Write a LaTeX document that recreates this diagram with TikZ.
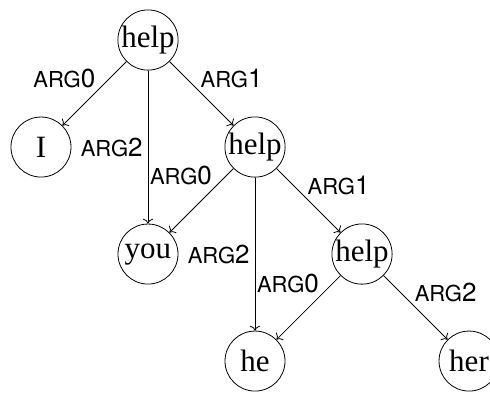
\documentclass[tikz,border=0pt]{standalone}
\usepackage{fontspec}
\setmainfont{Liberation Serif}
\setsansfont{TeX Gyre Heros}
\usepackage{tikz}
\usetikzlibrary{arrows.meta, positioning}

\newcommand{\argrel}[1]{{\fontsize{11}{13}\selectfont ARG}#1}

\begin{document}
\begin{tikzpicture}[x=1.88cm, y=1.88cm,
  word/.style={circle, draw, inner sep=0pt, minimum size=30pt, font=\fontsize{15.5}{18}\selectfont},
  rel/.style={font=\sffamily\fontsize{13}{15}\selectfont, inner sep=1pt}]
\useasboundingbox (-1.383,0.374) rectangle (3.196,-3.290);
\node[word] (h1) at (0,0) {help};
\node[word] (i) at (-1,-1) {I};
\node[word] (h2) at (1,-1) {help};
\node[word] (you) at (0,-2) {you};
\node[word] (h3) at (2,-2) {help};
\node[word] (he) at (1,-3) {he};
\node[word] (her) at (3,-3) {her};
\draw[->] (h1) -- node[rel, pos=0.45, above left] {\argrel{0}} (i);
\draw[->] (h1) -- node[rel, midway, left=1.5pt] {\argrel{2}} (you);
\draw[->] (h1) -- node[rel, pos=0.45, above right] {\argrel{1}} (h2);
\draw[->] (h2) -- node[rel, pos=0.3, above left] {\argrel{0}} (you);
\draw[->] (h2) -- node[rel, midway, left=1.5pt] {\argrel{2}} (he);
\draw[->] (h2) -- node[rel, pos=0.45, above right] {\argrel{1}} (h3);
\draw[->] (h3) -- node[rel, pos=0.3, above left] {\argrel{0}} (he);
\draw[->] (h3) -- node[rel, pos=0.45, above right] {\argrel{2}} (her);
\end{tikzpicture}
\end{document}
